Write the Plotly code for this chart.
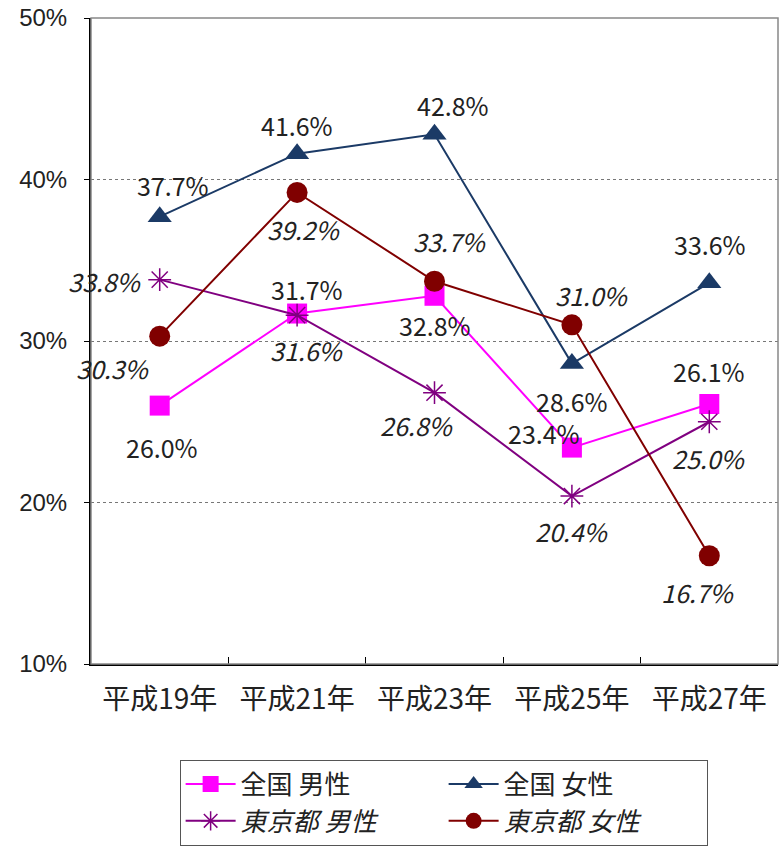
import plotly.graph_objects as go

categories = ["平成19年", "平成21年", "平成23年", "平成25年", "平成27年"]
national_male = [26.0, 31.7, 32.8, 23.4, 26.1]
national_female = [37.7, 41.6, 42.8, 28.6, 33.6]
tokyo_male = [33.8, 31.6, 26.8, 20.4, 25.0]
tokyo_female = [30.3, 39.2, 33.7, 31.0, 16.7]
y_ticks = [10, 20, 30, 40, 50]

FONT = "Noto Sans CJK JP"

series = [
    dict(name="全国 男性", y=national_male, color="#FF00FF",
         symbol="square", size=20, italic=False,
         offsets=[(2, -41), (10, 25), (0, -29), (-28, 15), (0, 33)]),
    dict(name="全国 女性", y=national_female, color="#1B3A66",
         symbol="triangle-up", size=21, italic=False,
         offsets=[(13, 32), (0, 29), (18, 29), (0, -37), (1, 39)]),
    dict(name="<i>東京都 男性</i>", y=tokyo_male, color="#800080",
         symbol="asterisk-open", size=19, italic=True,
         offsets=[(-55, -1), (10, -35), (-18, -32), (0, -35), (0, -36)]),
    dict(name="<i>東京都 女性</i>", y=tokyo_female, color="#800000",
         symbol="circle", size=21, italic=True,
         offsets=[(-47, -32), (7, -37), (15, 40), (20, 30), (-11, -36)]),
]

fig = go.Figure()
annotations = []
for s in series:
    marker = dict(symbol=s["symbol"], size=s["size"], color=s["color"])
    if s["symbol"] == "asterisk-open":
        marker["line"] = dict(color=s["color"], width=1.5)
    fig.add_trace(go.Scatter(
        x=categories, y=s["y"], name=s["name"], mode="lines+markers",
        line=dict(color=s["color"], width=2), marker=marker,
    ))
    for c, v, (dx, dy) in zip(categories, s["y"], s["offsets"]):
        annotations.append(dict(
            x=c, y=v, text=f"{v:.1f}%", showarrow=False,
            xshift=dx, yshift=dy,
            font=dict(family=FONT, size=25, color="#222",
                      style="italic" if s["italic"] else "normal"),
        ))

fig.update_layout(
    width=779, height=854,
    margin=dict(l=91, r=1, t=18, b=190, autoexpand=False),
    paper_bgcolor="white", plot_bgcolor="white",
    font=dict(family=FONT, color="#222"),
    annotations=annotations,
    shapes=[dict(type="rect", xref="paper", yref="paper", x0=0, x1=1, y0=0, y1=1,
                 line=dict(color="#888", width=1.5), layer="above")],
    legend=dict(orientation="h", x=0.129, y=-0.148, xanchor="left", yanchor="top",
                entrywidth=198, itemwidth=50,
                bordercolor="#555", borderwidth=1,
                font=dict(family=FONT, size=26, color="#222"),
                bgcolor="white"),
    xaxis=dict(type="category", range=[-0.5, 4.5], showline=True, linecolor="black",
               linewidth=2, ticks="inside", tickson="boundaries", ticklen=7,
               tickcolor="black", showgrid=False, tickfont=dict(size=28, color="#222"),
               ticklabelstandoff=9),
    yaxis=dict(range=[10, 50], tickvals=y_ticks, ticktext=[f"{t}%" for t in y_ticks],
               showline=True, linecolor="black", linewidth=2, ticks="outside",
               ticklen=5, tickcolor="black", showgrid=True, gridcolor="#777",
               griddash="dot", gridwidth=1, zeroline=False, ticklabeloverflow="allow",
               tickfont=dict(family="Liberation Sans", size=24, color="#222"),
               ticklabelstandoff=12),
)

fig.write_html("out.html", config={"displayModeBar": False},
               post_script="document.body.style.margin='0';")
